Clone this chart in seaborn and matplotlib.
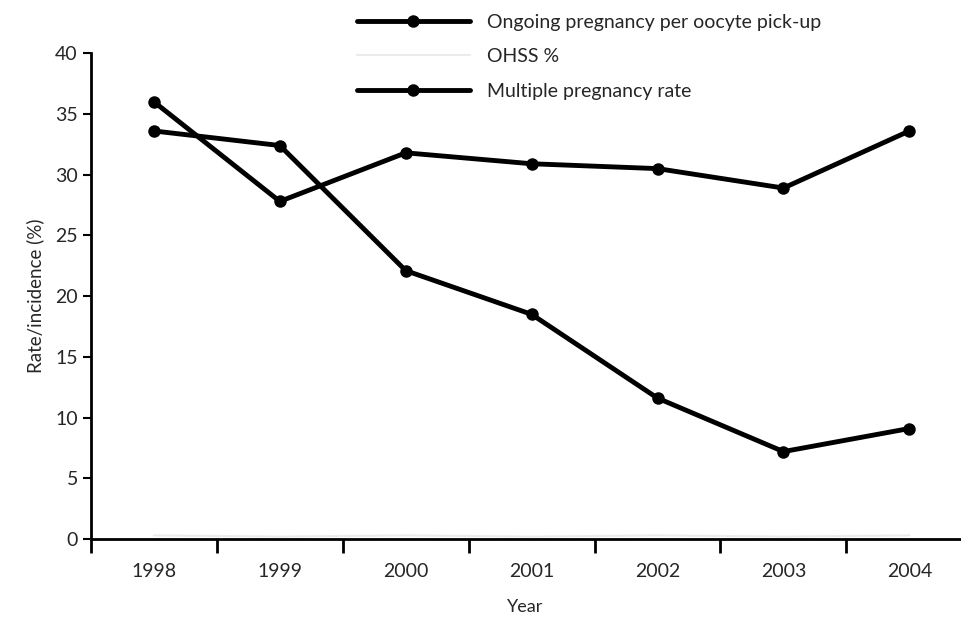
import pandas as pd
import seaborn as sns
import matplotlib.pyplot as plt
from matplotlib.ticker import FixedLocator

years = [1998, 1999, 2000, 2001, 2002, 2003, 2004]
ongoing = [36.0, 27.8, 31.8, 30.9, 30.5, 28.9, 33.6]
ohss = [0.3, 0.2, 0.3, 0.2, 0.3, 0.2, 0.3]
multiple = [33.6, 32.4, 22.1, 18.5, 11.6, 7.2, 9.1]

df = pd.DataFrame({"Year": years, "ongoing": ongoing, "ohss": ohss, "multiple": multiple})

sns.set_style("white")
plt.rcParams["font.family"] = ["Lato", "DejaVu Sans"]

fig = plt.figure(figsize=(9.62, 6.22), dpi=100)
ax = fig.add_axes([0.0946, 0.1334, 0.903, 0.781])

sns.lineplot(data=df, x="Year", y="ongoing", ax=ax, color="black", linewidth=3.5,
             marker="o", markersize=9, markeredgewidth=0,
             label="Ongoing pregnancy per oocyte pick-up")
sns.lineplot(data=df, x="Year", y="ohss", ax=ax, color="#ebebeb", linewidth=1.5,
             label="OHSS %")
sns.lineplot(data=df, x="Year", y="multiple", ax=ax, color="black", linewidth=3.5,
             marker="o", markersize=9, markeredgewidth=0,
             label="Multiple pregnancy rate")

ax.set_xlim(1997.5, 2004.4)
ax.set_ylim(0, 40)
ax.set_yticks(range(0, 41, 5))
ax.set_xticks(years)
ax.set_xticklabels([str(y) for y in years])
ax.xaxis.set_minor_locator(FixedLocator([y - 0.5 for y in years]))
ax.tick_params(axis="x", which="major", length=0, labelsize=14, pad=17)
ax.tick_params(axis="x", which="minor", length=10, width=2, direction="out", color="black")
ax.tick_params(axis="y", which="major", length=6, width=1.5, direction="out", labelsize=14, color="black")
ax.yaxis.set_ticks_position("left")
ax.xaxis.set_ticks_position("bottom")

for side in ["top", "right"]:
    ax.spines[side].set_visible(False)
for side in ["left", "bottom"]:
    ax.spines[side].set_color("black")
    ax.spines[side].set_linewidth(2)

ax.set_xlabel("Year", fontsize=13, labelpad=14)
ax.set_ylabel("Rate/incidence (%)", fontsize=13.5, labelpad=8)

handles, labels = ax.get_legend_handles_labels()
ax.get_legend().remove()
fig.legend(handles, labels, loc="upper left", bbox_to_anchor=(0.353, 1.006),
           frameon=False, fontsize=14, handlelength=5.8, handletextpad=0.9,
           labelspacing=0.9, markerscale=1.0)

fig.savefig("out.png", dpi=100)
